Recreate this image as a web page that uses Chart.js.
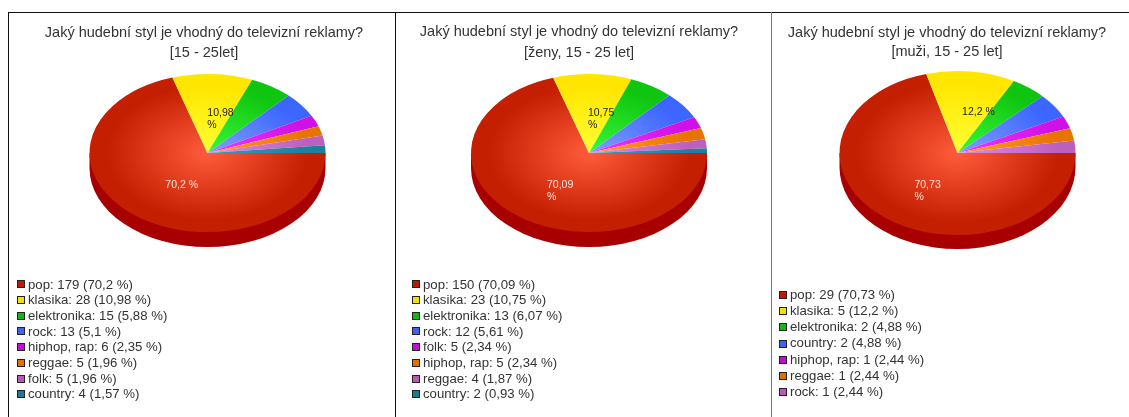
<!DOCTYPE html>
<html lang="cs">
<head>
<meta charset="utf-8">
<title>Hudební styl v televizní reklamě</title>
<script src="https://cdn.jsdelivr.net/npm/chart.js@4/dist/chart.umd.min.js"></script>
<style>
    html, body { margin: 0; padding: 0; background: #fff; }
    body { position: relative; width: 1129px; height: 417px; overflow: hidden; font-family: "Liberation Sans", Arial, sans-serif; }
    canvas { position: absolute; }
    .rule { position: absolute; background: #111; }
    .legend { position: absolute; margin: 0; padding: 0; list-style: none; font-size: 13.2px; color: #333; }
    .legend li { position: relative; padding-left: 11px; white-space: nowrap; }
    .legend i { position: absolute; left: 0; width: 6px; height: 6px; border: 1px solid #222; }
</style>
</head>
<body>
<div class="rule" style="left:8px;top:12px;width:1121px;height:1px"></div>
<div class="rule" style="left:8px;top:12px;width:1px;height:405px"></div>
<div class="rule" style="left:395px;top:12px;width:1px;height:405px"></div>
<div class="rule" style="left:771px;top:12px;width:1px;height:405px;background:#777"></div>

<canvas id="chartAll" width="386" height="403" style="left:11px;top:14px"></canvas>
<canvas id="chartWomen" width="366" height="403" style="left:396px;top:14px"></canvas>
<canvas id="chartMen" width="350" height="403" style="left:772px;top:14px"></canvas>
<ul class="legend" id="legendAll"></ul>
<ul class="legend" id="legendWomen"></ul>
<ul class="legend" id="legendMen"></ul>

<script>
const categoriesAll = ['pop', 'klasika', 'elektronika', 'rock', 'hiphop, rap', 'reggae', 'folk', 'country'];
const valuesAll = [179, 28, 15, 13, 6, 5, 5, 4];

const categoriesWomen = ['pop', 'klasika', 'elektronika', 'rock', 'folk', 'hiphop, rap', 'reggae', 'country'];
const valuesWomen = [150, 23, 13, 12, 5, 5, 4, 2];

const categoriesMen = ['pop', 'klasika', 'elektronika', 'country', 'hiphop, rap', 'reggae', 'rock'];
const valuesMen = [29, 5, 2, 2, 1, 1, 1];

const titleAll = ['Jaký hudební styl je vhodný do televizní reklamy?', '[15 - 25let]'];
const titleWomen = ['Jaký hudební styl je vhodný do televizní reklamy?', '[ženy, 15 - 25 let]'];
const titleMen = ['Jaký hudební styl je vhodný do televizní reklamy?', '[muži, 15 - 25 let]'];

// barvy výsečí: okraj, střed přechodu, čtvereček v legendě
const edgeColors = ['#c41f00', '#ffe600', '#10c510', '#3c66ff', '#d010e6', '#e87400', '#bd60bd', '#1f7f9c'];
const centerColors = ['#ff5c3c', '#ffff33', '#38f838', '#80a0ff', '#f038ff', '#ffa028', '#e088e0', '#3c9cb8'];
const swatchColors = ['#c01a00', '#f5e000', '#10b810', '#3c64f0', '#c010d8', '#e07000', '#b858b8', '#1a7a98'];

const DEPTH_COLOR = '#a80000';

// desetinná čárka, bez koncových nul
function formatPercent(value, total) {
    return String(Math.round(value / total * 10000) / 100).replace('.', ',') + ' %';
}

// Vykreslí koláč jako zploštělou elipsu se spodní hranou
const tiltedPie = {
    id: 'tiltedPie',
    beforeDatasetsDraw(chart, args, opts) {
        const arc = chart.getDatasetMeta(0).data[0];
        const ctx = chart.ctx;
        const { x, y, outerRadius: r } = arc;
        ctx.save();
        ctx.fillStyle = DEPTH_COLOR;
        ctx.beginPath();
        ctx.ellipse(opts.cx, opts.cy + opts.depth, r, opts.ry, 0, 0, Math.PI);
        ctx.lineTo(opts.cx - r, opts.cy);
        ctx.lineTo(opts.cx + r, opts.cy);
        ctx.closePath();
        ctx.fill();
        ctx.translate(opts.cx, opts.cy);
        ctx.scale(1, opts.ry / r);
        ctx.translate(-x, -y);
    },
    afterDatasetsDraw(chart, args, opts) {
        const ctx = chart.ctx;
        ctx.restore();

        // popisky jen u větších výsečí, delší se zalomí před znakem %
        const meta = chart.getDatasetMeta(0);
        const values = chart.data.datasets[0].data;
        const total = values.reduce((a, b) => a + b, 0);
        ctx.save();
        ctx.font = '10.5px "Liberation Sans", Arial, sans-serif';
        ctx.textBaseline = 'middle';
        meta.data.forEach((arc, i) => {
            if (values[i] / total < 0.1) return;
            const mid = (arc.startAngle + arc.endAngle) / 2;
            const left = opts.cx + arc.outerRadius * 0.56 * Math.cos(mid) - 3;
            const top = opts.cy + opts.ry * 0.5 * Math.sin(mid);
            const text = formatPercent(values[i], total);
            const lines = ctx.measureText(text).width > 36 ? text.split(' ') : [text];
            ctx.fillStyle = i === 0 ? '#ffe4dc' : '#222';
            lines.forEach((line, n) => ctx.fillText(line, left, top + n * 12));
        });
        ctx.restore();
    }
};

function makeChart(canvasId, categories, values, title, pie) {
    const canvas = document.getElementById(canvasId);
    const box = canvas.getBoundingClientRect();
    return new Chart(canvas, {
        type: 'pie',
        data: {
            labels: categories,
            datasets: [{
                data: values,
                borderWidth: 0,
                backgroundColor(context) {
                    const area = context.chart.chartArea;
                    if (!area) return edgeColors[context.dataIndex];
                    const cx = (area.left + area.right) / 2;
                    const cy = (area.top + area.bottom) / 2;
                    const g = context.chart.ctx.createRadialGradient(cx, cy, 0, cx, cy, pie.radius);
                    g.addColorStop(0, centerColors[context.dataIndex]);
                    g.addColorStop(0.85, edgeColors[context.dataIndex]);
                    g.addColorStop(1, edgeColors[context.dataIndex]);
                    return g;
                }
            }]
        },
        options: {
            responsive: false,
            animation: false,
            rotation: 90,
            radius: pie.radius,
            plugins: {
                legend: { display: false },
                tooltip: { enabled: false },
                title: {
                    display: true,
                    text: title,
                    color: '#333',
                    font: { family: '"Liberation Sans", Arial, sans-serif', size: 14.5, weight: 'normal', lineHeight: pie.titleLine },
                    padding: { top: pie.titleTop, bottom: 0 }
                },
                tiltedPie: { cx: pie.centerX - box.left, cy: pie.centerY - box.top, ry: pie.ry, depth: pie.depth }
            }
        },
        plugins: [tiltedPie]
    });
}

// Legenda pod koláčem jako HTML seznam
function makeLegend(listId, categories, values, place) {
    const list = document.getElementById(listId);
    const total = values.reduce((a, b) => a + b, 0);
    list.style.left = place.left + 'px';
    list.style.top = place.top + 'px';
    list.style.lineHeight = place.row + 'px';
    categories.forEach((name, i) => {
        const item = document.createElement('li');
        const swatch = document.createElement('i');
        swatch.style.background = swatchColors[i];
        swatch.style.top = (place.row - 8) / 2 + 'px';
        item.appendChild(swatch);
        item.appendChild(document.createTextNode(`${name}: ${values[i]} (${formatPercent(values[i], total)})`));
        list.appendChild(item);
    });
}

makeChart('chartAll', categoriesAll, valuesAll, titleAll,
    { centerX: 207.5, centerY: 153, radius: 118, ry: 79, depth: 15, titleTop: 8.5, titleLine: 1.42 });
makeChart('chartWomen', categoriesWomen, valuesWomen, titleWomen,
    { centerX: 589, centerY: 153, radius: 118, ry: 79, depth: 15, titleTop: 8, titleLine: 1.42 });
makeChart('chartMen', categoriesMen, valuesMen, titleMen,
    { centerX: 957.5, centerY: 153, radius: 118, ry: 82, depth: 14, titleTop: 9.5, titleLine: 1.31 });

makeLegend('legendAll', categoriesAll, valuesAll, { left: 17, top: 276.5, row: 15.7 });
makeLegend('legendWomen', categoriesWomen, valuesWomen, { left: 412, top: 276.5, row: 15.7 });
makeLegend('legendMen', categoriesMen, valuesMen, { left: 779, top: 286.5, row: 16.3 });
</script>
</body>
</html>
